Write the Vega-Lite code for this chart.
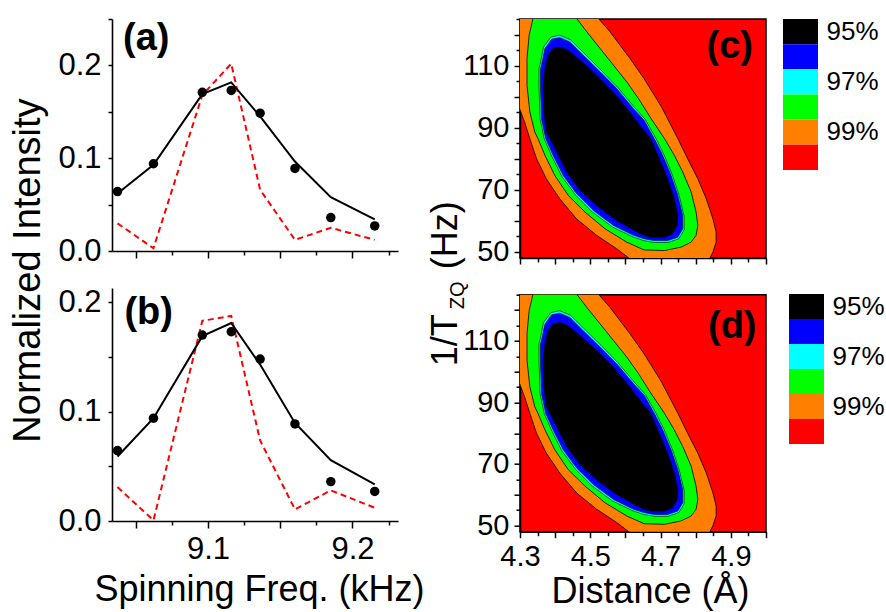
{
  "$schema": "https://vega.github.io/schema/vega-lite/v6.json",
  "background": "white",
  "padding": {"left": 8, "top": 17, "right": 5, "bottom": 3},
  "config": {
    "font": "Liberation Sans",
    "view": {"stroke": null},
    "axis": {"domainColor": "black", "domainWidth": 1.6, "tickColor": "black", "tickWidth": 1.5, "labelColor": "black", "titleColor": "black", "labelFont": "Liberation Sans", "titleFont": "Liberation Sans", "titleFontWeight": "normal", "grid": false, "labelFlush": false, "labelOverlap": false}
  },
  "datasets": {
    "spec": [
      {"p": "a", "s": "exp", "f": 9.0374, "v": 0.064}, {"p": "a", "s": "exp", "f": 9.0623, "v": 0.094}, {"p": "a", "s": "exp", "f": 9.0961, "v": 0.171}, {"p": "a", "s": "exp", "f": 9.1161, "v": 0.173}, {"p": "a", "s": "exp", "f": 9.1361, "v": 0.1485}, {"p": "a", "s": "exp", "f": 9.1602, "v": 0.089}, {"p": "a", "s": "exp", "f": 9.185, "v": 0.036}, {"p": "a", "s": "exp", "f": 9.2154, "v": 0.027},
      {"p": "a", "s": "fit", "f": 9.0374, "v": 0.062}, {"p": "a", "s": "fit", "f": 9.0623, "v": 0.093}, {"p": "a", "s": "fit", "f": 9.0961, "v": 0.169}, {"p": "a", "s": "fit", "f": 9.1161, "v": 0.1817}, {"p": "a", "s": "fit", "f": 9.1361, "v": 0.145}, {"p": "a", "s": "fit", "f": 9.1602, "v": 0.0964}, {"p": "a", "s": "fit", "f": 9.185, "v": 0.058}, {"p": "a", "s": "fit", "f": 9.2154, "v": 0.034},
      {"p": "a", "s": "sim", "f": 9.0374, "v": 0.0298}, {"p": "a", "s": "sim", "f": 9.0623, "v": 0.003}, {"p": "a", "s": "sim", "f": 9.0961, "v": 0.168}, {"p": "a", "s": "sim", "f": 9.1161, "v": 0.2018}, {"p": "a", "s": "sim", "f": 9.1361, "v": 0.066}, {"p": "a", "s": "sim", "f": 9.1602, "v": 0.012}, {"p": "a", "s": "sim", "f": 9.185, "v": 0.025}, {"p": "a", "s": "sim", "f": 9.2154, "v": 0.012},
      {"p": "b", "s": "exp", "f": 9.0374, "v": 0.0644}, {"p": "b", "s": "exp", "f": 9.0623, "v": 0.094}, {"p": "b", "s": "exp", "f": 9.0961, "v": 0.170}, {"p": "b", "s": "exp", "f": 9.1161, "v": 0.173}, {"p": "b", "s": "exp", "f": 9.1361, "v": 0.148}, {"p": "b", "s": "exp", "f": 9.1602, "v": 0.0887}, {"p": "b", "s": "exp", "f": 9.185, "v": 0.036}, {"p": "b", "s": "exp", "f": 9.2154, "v": 0.027},
      {"p": "b", "s": "fit", "f": 9.0374, "v": 0.059}, {"p": "b", "s": "fit", "f": 9.0623, "v": 0.094}, {"p": "b", "s": "fit", "f": 9.0961, "v": 0.169}, {"p": "b", "s": "fit", "f": 9.1161, "v": 0.181}, {"p": "b", "s": "fit", "f": 9.1361, "v": 0.143}, {"p": "b", "s": "fit", "f": 9.1602, "v": 0.0896}, {"p": "b", "s": "fit", "f": 9.185, "v": 0.0556}, {"p": "b", "s": "fit", "f": 9.2154, "v": 0.0334},
      {"p": "b", "s": "sim", "f": 9.0374, "v": 0.031}, {"p": "b", "s": "sim", "f": 9.0623, "v": 0.0006}, {"p": "b", "s": "sim", "f": 9.0961, "v": 0.183}, {"p": "b", "s": "sim", "f": 9.1161, "v": 0.1875}, {"p": "b", "s": "sim", "f": 9.1361, "v": 0.0736}, {"p": "b", "s": "sim", "f": 9.1602, "v": 0.0106}, {"p": "b", "s": "sim", "f": 9.185, "v": 0.028}, {"p": "b", "s": "sim", "f": 9.2154, "v": 0.0121}
    ],
    "levels": [
      {"lvl": "95%"}, {"lvl": "96%"}, {"lvl": "97%"}, {"lvl": "98%"}, {"lvl": "99%"}, {"lvl": "100%"}
    ],
    "contour": [
      {"r": "o", "i": 0, "x": 4.279, "y": 127.4}, {"r": "o", "i": 1, "x": 4.508, "y": 127.4}, {"r": "o", "i": 2, "x": 4.523, "y": 125.2}, {"r": "o", "i": 3, "x": 4.556, "y": 120.9}, {"r": "o", "i": 4, "x": 4.585, "y": 116.5}, {"r": "o", "i": 5, "x": 4.613, "y": 112.3}, {"r": "o", "i": 6, "x": 4.653, "y": 105.8}, {"r": "o", "i": 7, "x": 4.702, "y": 96.8}, {"r": "o", "i": 8, "x": 4.749, "y": 86.5}, {"r": "o", "i": 9, "x": 4.777, "y": 80.0}, {"r": "o", "i": 10, "x": 4.806, "y": 73.5}, {"r": "o", "i": 11, "x": 4.830, "y": 67.1}, {"r": "o", "i": 12, "x": 4.849, "y": 60.6}, {"r": "o", "i": 13, "x": 4.858, "y": 56.4}, {"r": "o", "i": 14, "x": 4.858, "y": 53.1}, {"r": "o", "i": 15, "x": 4.849, "y": 49.9}, {"r": "o", "i": 16, "x": 4.839, "y": 47.7}, {"r": "o", "i": 17, "x": 4.833, "y": 46.1}, {"r": "o", "i": 18, "x": 4.625, "y": 46.1}, {"r": "o", "i": 19, "x": 4.613, "y": 47.7}, {"r": "o", "i": 20, "x": 4.575, "y": 51.0}, {"r": "o", "i": 21, "x": 4.518, "y": 55.3}, {"r": "o", "i": 22, "x": 4.461, "y": 60.6}, {"r": "o", "i": 23, "x": 4.413, "y": 67.1}, {"r": "o", "i": 24, "x": 4.375, "y": 73.5}, {"r": "o", "i": 25, "x": 4.347, "y": 80.0}, {"r": "o", "i": 26, "x": 4.328, "y": 86.5}, {"r": "o", "i": 27, "x": 4.313, "y": 91.8}, {"r": "o", "i": 28, "x": 4.299, "y": 96.1}, {"r": "o", "i": 29, "x": 4.285, "y": 100.0},
      {"r": "g", "i": 0, "x": 4.342, "y": 127.4}, {"r": "g", "i": 1, "x": 4.446, "y": 127.4}, {"r": "g", "i": 2, "x": 4.461, "y": 125.2}, {"r": "g", "i": 3, "x": 4.490, "y": 120.9}, {"r": "g", "i": 4, "x": 4.528, "y": 115.5}, {"r": "g", "i": 5, "x": 4.566, "y": 110.1}, {"r": "g", "i": 6, "x": 4.604, "y": 104.7}, {"r": "g", "i": 7, "x": 4.637, "y": 99.4}, {"r": "g", "i": 8, "x": 4.673, "y": 92.9}, {"r": "g", "i": 9, "x": 4.711, "y": 86.5}, {"r": "g", "i": 10, "x": 4.739, "y": 81.1}, {"r": "g", "i": 11, "x": 4.763, "y": 75.7}, {"r": "g", "i": 12, "x": 4.787, "y": 69.3}, {"r": "g", "i": 13, "x": 4.801, "y": 62.8}, {"r": "g", "i": 14, "x": 4.806, "y": 58.5}, {"r": "g", "i": 15, "x": 4.801, "y": 55.3}, {"r": "g", "i": 16, "x": 4.787, "y": 53.1}, {"r": "g", "i": 17, "x": 4.758, "y": 51.5}, {"r": "g", "i": 18, "x": 4.711, "y": 50.4}, {"r": "g", "i": 19, "x": 4.653, "y": 50.6}, {"r": "g", "i": 20, "x": 4.604, "y": 53.1}, {"r": "g", "i": 21, "x": 4.542, "y": 57.4}, {"r": "g", "i": 22, "x": 4.485, "y": 62.8}, {"r": "g", "i": 23, "x": 4.437, "y": 68.2}, {"r": "g", "i": 24, "x": 4.399, "y": 74.6}, {"r": "g", "i": 25, "x": 4.371, "y": 81.1}, {"r": "g", "i": 26, "x": 4.351, "y": 86.5}, {"r": "g", "i": 27, "x": 4.342, "y": 88.6}, {"r": "g", "i": 28, "x": 4.328, "y": 95.1}, {"r": "g", "i": 29, "x": 4.320, "y": 103.6}, {"r": "g", "i": 30, "x": 4.320, "y": 112.3}, {"r": "g", "i": 31, "x": 4.326, "y": 119.8}, {"r": "g", "i": 32, "x": 4.337, "y": 125.2}, {"r": "g", "i": 33, "x": 4.342, "y": 127.4},
      {"r": "c", "i": 0, "x": 4.357, "y": 110.3}, {"r": "c", "i": 1, "x": 4.367, "y": 116.0}, {"r": "c", "i": 2, "x": 4.388, "y": 119.2}, {"r": "c", "i": 3, "x": 4.413, "y": 119.8}, {"r": "c", "i": 4, "x": 4.444, "y": 118.3}, {"r": "c", "i": 5, "x": 4.483, "y": 113.9}, {"r": "c", "i": 6, "x": 4.531, "y": 108.5}, {"r": "c", "i": 7, "x": 4.578, "y": 103.0}, {"r": "c", "i": 8, "x": 4.626, "y": 96.5}, {"r": "c", "i": 9, "x": 4.656, "y": 92.7}, {"r": "c", "i": 10, "x": 4.686, "y": 86.7}, {"r": "c", "i": 11, "x": 4.710, "y": 81.2}, {"r": "c", "i": 12, "x": 4.734, "y": 74.6}, {"r": "c", "i": 13, "x": 4.753, "y": 68.1}, {"r": "c", "i": 14, "x": 4.767, "y": 61.5}, {"r": "c", "i": 15, "x": 4.767, "y": 57.1}, {"r": "c", "i": 16, "x": 4.752, "y": 54.2}, {"r": "c", "i": 17, "x": 4.721, "y": 53.0}, {"r": "c", "i": 18, "x": 4.682, "y": 53.0}, {"r": "c", "i": 19, "x": 4.652, "y": 53.6}, {"r": "c", "i": 20, "x": 4.621, "y": 54.8}, {"r": "c", "i": 21, "x": 4.563, "y": 58.0}, {"r": "c", "i": 22, "x": 4.506, "y": 62.8}, {"r": "c", "i": 23, "x": 4.458, "y": 68.3}, {"r": "c", "i": 24, "x": 4.419, "y": 74.3}, {"r": "c", "i": 25, "x": 4.390, "y": 80.9}, {"r": "c", "i": 26, "x": 4.369, "y": 86.4}, {"r": "c", "i": 27, "x": 4.357, "y": 92.9}, {"r": "c", "i": 28, "x": 4.354, "y": 103.6}, {"r": "c", "i": 29, "x": 4.354, "y": 109.2}, {"r": "c", "i": 30, "x": 4.357, "y": 110.3},
      {"r": "b", "i": 0, "x": 4.361, "y": 110.1}, {"r": "b", "i": 1, "x": 4.371, "y": 115.5}, {"r": "b", "i": 2, "x": 4.390, "y": 118.5}, {"r": "b", "i": 3, "x": 4.413, "y": 119.0}, {"r": "b", "i": 4, "x": 4.442, "y": 117.6}, {"r": "b", "i": 5, "x": 4.480, "y": 113.3}, {"r": "b", "i": 6, "x": 4.528, "y": 108.0}, {"r": "b", "i": 7, "x": 4.575, "y": 102.6}, {"r": "b", "i": 8, "x": 4.623, "y": 96.1}, {"r": "b", "i": 9, "x": 4.653, "y": 92.4}, {"r": "b", "i": 10, "x": 4.682, "y": 86.5}, {"r": "b", "i": 11, "x": 4.706, "y": 81.1}, {"r": "b", "i": 12, "x": 4.730, "y": 74.6}, {"r": "b", "i": 13, "x": 4.749, "y": 68.2}, {"r": "b", "i": 14, "x": 4.763, "y": 61.7}, {"r": "b", "i": 15, "x": 4.763, "y": 57.4}, {"r": "b", "i": 16, "x": 4.749, "y": 54.7}, {"r": "b", "i": 17, "x": 4.720, "y": 53.6}, {"r": "b", "i": 18, "x": 4.682, "y": 53.6}, {"r": "b", "i": 19, "x": 4.653, "y": 54.2}, {"r": "b", "i": 20, "x": 4.623, "y": 55.3}, {"r": "b", "i": 21, "x": 4.566, "y": 58.5}, {"r": "b", "i": 22, "x": 4.509, "y": 63.3}, {"r": "b", "i": 23, "x": 4.461, "y": 68.7}, {"r": "b", "i": 24, "x": 4.423, "y": 74.6}, {"r": "b", "i": 25, "x": 4.394, "y": 81.1}, {"r": "b", "i": 26, "x": 4.373, "y": 86.5}, {"r": "b", "i": 27, "x": 4.361, "y": 92.9}, {"r": "b", "i": 28, "x": 4.358, "y": 103.6}, {"r": "b", "i": 29, "x": 4.358, "y": 109.0}, {"r": "b", "i": 30, "x": 4.361, "y": 110.1},
      {"r": "k", "i": 0, "x": 4.380, "y": 113.3}, {"r": "k", "i": 1, "x": 4.394, "y": 115.5}, {"r": "k", "i": 2, "x": 4.413, "y": 116.0}, {"r": "k", "i": 3, "x": 4.437, "y": 114.9}, {"r": "k", "i": 4, "x": 4.476, "y": 111.2}, {"r": "k", "i": 5, "x": 4.518, "y": 106.9}, {"r": "k", "i": 6, "x": 4.565, "y": 101.5}, {"r": "k", "i": 7, "x": 4.612, "y": 95.1}, {"r": "k", "i": 8, "x": 4.648, "y": 89.7}, {"r": "k", "i": 9, "x": 4.672, "y": 86.5}, {"r": "k", "i": 10, "x": 4.696, "y": 80.0}, {"r": "k", "i": 11, "x": 4.720, "y": 73.5}, {"r": "k", "i": 12, "x": 4.739, "y": 67.1}, {"r": "k", "i": 13, "x": 4.749, "y": 61.7}, {"r": "k", "i": 14, "x": 4.747, "y": 58.5}, {"r": "k", "i": 15, "x": 4.734, "y": 55.8}, {"r": "k", "i": 16, "x": 4.711, "y": 54.7}, {"r": "k", "i": 17, "x": 4.673, "y": 54.7}, {"r": "k", "i": 18, "x": 4.653, "y": 55.3}, {"r": "k", "i": 19, "x": 4.633, "y": 56.4}, {"r": "k", "i": 20, "x": 4.575, "y": 60.1}, {"r": "k", "i": 21, "x": 4.518, "y": 64.9}, {"r": "k", "i": 22, "x": 4.471, "y": 69.8}, {"r": "k", "i": 23, "x": 4.433, "y": 75.7}, {"r": "k", "i": 24, "x": 4.409, "y": 81.1}, {"r": "k", "i": 25, "x": 4.385, "y": 86.5}, {"r": "k", "i": 26, "x": 4.375, "y": 88.6}, {"r": "k", "i": 27, "x": 4.368, "y": 95.1}, {"r": "k", "i": 28, "x": 4.366, "y": 103.6}, {"r": "k", "i": 29, "x": 4.371, "y": 109.0}, {"r": "k", "i": 30, "x": 4.380, "y": 113.3}
    ]
  },
  "spacing": 1,
  "hconcat": [
    {
      "bounds": "flush",
      "spacing": 37,
      "vconcat": [
        {
          "width": 286, "height": 232,
          "data": {"name": "spec"},
          "encoding": {
            "x": {"field": "f", "type": "quantitative", "scale": {"domain": [9.0336, 9.2315], "nice": false, "zero": false},
              "axis": {"values": [9.05, 9.075, 9.1, 9.125, 9.15, 9.175, 9.2, 9.225], "labels": false, "title": null,
                "tickSize": {"condition": {"test": "abs(datum.value*20 - round(datum.value*20)) < 0.001", "value": 7}, "value": 4}}},
            "y": {"field": "v", "type": "quantitative", "scale": {"domain": [0, 0.25], "nice": false, "zero": false},
              "axis": {"values": [0, 0.05, 0.1, 0.15, 0.2, 0.25], "labelExpr": "abs(datum.value*10 - round(datum.value*10)) < 0.001 ? format(datum.value, '.1f') : ''",
                "labelFontSize": {"condition": {"test": "abs(datum.value*10 - round(datum.value*10)) < 0.001", "value": 31}, "value": 0},
                "tickSize": 4, "labelPadding": 7,
                "title": "Normalized Intensity", "titleFontSize": 38, "titleAngle": -90, "titleAlign": "center", "titleBaseline": "alphabetic", "titleX": -73, "titleY": 251}}
          },
          "layer": [
            {"transform": [{"filter": "datum.p == 'a' && datum.s == 'sim'"}], "mark": {"type": "line", "color": "#ff0000", "strokeWidth": 2, "strokeDash": [6, 4]}},
            {"transform": [{"filter": "datum.p == 'a' && datum.s == 'fit'"}], "mark": {"type": "line", "color": "black", "strokeWidth": 2}},
            {"transform": [{"filter": "datum.p == 'a' && datum.s == 'exp'"}], "mark": {"type": "circle", "color": "black", "size": 90, "opacity": 1}},
            {"transform": [{"filter": "datum.p == 'a' && datum.s == 'exp' && datum.f < 9.04"}], "mark": {"type": "text", "text": "(a)", "fontSize": 38, "fontWeight": "bold", "align": "center", "baseline": "middle", "fill": "black"},
              "encoding": {"x": {"datum": 9.0573}, "y": {"datum": 0.2286}}}
          ]
        },
        {
          "width": 286, "height": 233,
          "data": {"name": "spec"},
          "encoding": {
            "x": {"field": "f", "type": "quantitative", "scale": {"domain": [9.0336, 9.2315], "nice": false, "zero": false},
              "axis": {"values": [9.05, 9.075, 9.1, 9.125, 9.15, 9.175, 9.2, 9.225],
                "labelExpr": "abs(datum.value*10 - round(datum.value*10)) < 0.001 ? format(datum.value, '.1f') : ''",
                "labelFontSize": {"condition": {"test": "abs(datum.value*10 - round(datum.value*10)) < 0.001", "value": 31}, "value": 0},
                "labelPadding": 6,
                "tickSize": {"condition": {"test": "abs(datum.value*20 - round(datum.value*20)) < 0.001", "value": 7}, "value": 4},
                "title": "Spinning Freq. (kHz)", "titleFontSize": 36, "titlePadding": 8, "titleX": 147}},
            "y": {"field": "v", "type": "quantitative", "scale": {"domain": [0, 0.213], "nice": false, "zero": false},
              "axis": {"values": [0, 0.05, 0.1, 0.15, 0.2], "labelExpr": "abs(datum.value*10 - round(datum.value*10)) < 0.001 ? format(datum.value, '.1f') : ''",
                "labelFontSize": {"condition": {"test": "abs(datum.value*10 - round(datum.value*10)) < 0.001", "value": 31}, "value": 0},
                "tickSize": 4, "labelPadding": 7, "title": null}}
          },
          "layer": [
            {"transform": [{"filter": "datum.p == 'b' && datum.s == 'sim'"}], "mark": {"type": "line", "color": "#ff0000", "strokeWidth": 2, "strokeDash": [6, 4]}},
            {"transform": [{"filter": "datum.p == 'b' && datum.s == 'fit'"}], "mark": {"type": "line", "color": "black", "strokeWidth": 2}},
            {"transform": [{"filter": "datum.p == 'b' && datum.s == 'exp'"}], "mark": {"type": "circle", "color": "black", "size": 90, "opacity": 1}},
            {"transform": [{"filter": "datum.p == 'b' && datum.s == 'exp' && datum.f < 9.04"}], "mark": {"type": "text", "text": "(b)", "fontSize": 38, "fontWeight": "bold", "align": "center", "baseline": "middle", "fill": "black"},
              "encoding": {"x": {"datum": 9.059}, "y": {"datum": 0.19}}}
          ]
        }
      ]
    },
    {
      "spacing": 15,
      "hconcat": [
        {
          "bounds": "flush",
          "spacing": 36.7,
          "vconcat": [
            {
              "width": 246, "height": 239,
              "view": {"fill": "#ff0000", "stroke": "black", "strokeWidth": 1.5},
              "data": {"name": "contour"},
              "encoding": {
                "x": {"field": "x", "type": "quantitative", "scale": {"domain": [4.3, 5.0], "nice": false, "zero": false},
                  "axis": {"values": [4.3, 4.35, 4.4, 4.45, 4.5, 4.55, 4.6, 4.65, 4.7, 4.75, 4.8, 4.85, 4.9, 4.95, 5.0], "labels": false, "title": null,
                    "tickSize": {"condition": {"test": "abs(datum.value*10 - round(datum.value*10)) < 0.001", "value": 6}, "value": 4}}},
                "y": {"field": "y", "type": "quantitative", "scale": {"domain": [48, 125], "nice": false, "zero": false},
                  "axis": {"values": [50, 55, 60, 65, 70, 75, 80, 85, 90, 95, 100, 105, 110, 115, 120, 125],
                    "labelExpr": "(datum.value - 50) % 20 == 0 ? datum.label : ''",
                    "labelFontSize": {"condition": {"test": "(datum.value - 50) % 20 == 0", "value": 29}, "value": 0},
                    "tickSize": {"condition": {"test": "datum.value % 10 == 0", "value": 6}, "value": 4},
                    "labelPadding": 5, "title": null}}
              },
              "layer": [
                {"transform": [{"filter": "datum.r == 'o'"}], "mark": {"type": "line", "fill": "#ff8000", "stroke": "black", "strokeWidth": 0.8, "clip": true}, "encoding": {"order": {"field": "i", "type": "quantitative"}}},
                {"transform": [{"filter": "datum.r == 'g'"}], "mark": {"type": "line", "fill": "#00ff00", "stroke": "black", "strokeWidth": 0.8, "clip": true}, "encoding": {"order": {"field": "i", "type": "quantitative"}}},
                {"transform": [{"filter": "datum.r == 'c'"}], "mark": {"type": "line", "fill": "#00ffff", "stroke": "black", "strokeWidth": 0.6, "clip": true}, "encoding": {"order": {"field": "i", "type": "quantitative"}}},
                {"transform": [{"filter": "datum.r == 'b'"}], "mark": {"type": "line", "fill": "#0000ff", "stroke": "black", "strokeWidth": 0.6, "clip": true}, "encoding": {"order": {"field": "i", "type": "quantitative"}}},
                {"transform": [{"filter": "datum.r == 'k'"}], "mark": {"type": "line", "fill": "#000000", "stroke": "black", "strokeWidth": 0.6, "clip": true}, "encoding": {"order": {"field": "i", "type": "quantitative"}}},
                {"transform": [{"filter": "datum.r == 'o' && datum.i == 0"}], "mark": {"type": "text", "text": "(c)", "fontSize": 38, "fontWeight": "bold", "align": "center", "baseline": "middle", "fill": "black"},
                  "encoding": {"x": {"datum": 4.897}, "y": {"datum": 115.9}}}
              ]
            },
            {
              "width": 246, "height": 237,
              "view": {"fill": "#ff0000", "stroke": "black", "strokeWidth": 1.5},
              "data": {"name": "contour"},
              "resolve": {"axis": {"y": "independent"}},
              "encoding": {
                "x": {"field": "x", "type": "quantitative", "scale": {"domain": [4.3, 5.0], "nice": false, "zero": false},
                  "axis": {"values": [4.3, 4.35, 4.4, 4.45, 4.5, 4.55, 4.6, 4.65, 4.7, 4.75, 4.8, 4.85, 4.9, 4.95, 5.0],
                    "labelExpr": "abs((datum.value - 4.3)*5 - round((datum.value - 4.3)*5)) < 0.001 ? format(datum.value, '.1f') : ''",
                    "labelFontSize": {"condition": {"test": "abs((datum.value - 4.3)*5 - round((datum.value - 4.3)*5)) < 0.001", "value": 29}, "value": 0},
                    "labelPadding": 5,
                    "tickSize": {"condition": {"test": "abs(datum.value*10 - round(datum.value*10)) < 0.001", "value": 6}, "value": 4},
                    "title": "Distance (Å)", "titleFontSize": 36, "titlePadding": 3, "titleX": 130}}
              },
              "layer": [
                {"transform": [{"filter": "datum.r == 'o'"}], "mark": {"type": "line", "fill": "#ff8000", "stroke": "black", "strokeWidth": 0.8, "clip": true},
                  "encoding": {"order": {"field": "i", "type": "quantitative"}, "y": {"field": "y", "type": "quantitative", "scale": {"domain": [48, 125], "nice": false, "zero": false},
                    "axis": {"orient": "left", "values": [50, 55, 60, 65, 70, 75, 80, 85, 90, 95, 100, 105, 110, 115, 120, 125],
                      "labelExpr": "(datum.value - 50) % 20 == 0 ? datum.label : ''",
                      "labelFontSize": {"condition": {"test": "(datum.value - 50) % 20 == 0", "value": 29}, "value": 0},
                      "tickSize": {"condition": {"test": "datum.value % 10 == 0", "value": 6}, "value": 4},
                      "labelPadding": 5,
                      "title": "1/T", "titleFontSize": 36, "titleAngle": -90, "titleAlign": "right", "titleBaseline": "alphabetic", "titleX": -64, "titleY": 19}}}},
                {"transform": [{"filter": "datum.r == 'g'"}], "mark": {"type": "line", "fill": "#00ff00", "stroke": "black", "strokeWidth": 0.8, "clip": true},
                  "encoding": {"order": {"field": "i", "type": "quantitative"}, "y": {"field": "y", "type": "quantitative", "axis": null}}},
                {"transform": [{"filter": "datum.r == 'c'"}], "mark": {"type": "line", "fill": "#00ffff", "stroke": "black", "strokeWidth": 0.6, "clip": true},
                  "encoding": {"order": {"field": "i", "type": "quantitative"}, "y": {"field": "y", "type": "quantitative", "axis": null}}},
                {"transform": [{"filter": "datum.r == 'b'"}], "mark": {"type": "line", "fill": "#0000ff", "stroke": "black", "strokeWidth": 0.6, "clip": true},
                  "encoding": {"order": {"field": "i", "type": "quantitative"}, "y": {"field": "y", "type": "quantitative", "axis": null}}},
                {"transform": [{"filter": "datum.r == 'k'"}], "mark": {"type": "line", "fill": "#000000", "stroke": "black", "strokeWidth": 0.6, "clip": true},
                  "encoding": {"order": {"field": "i", "type": "quantitative"}, "y": {"field": "y", "type": "quantitative", "axis": null}}},
                {"transform": [{"filter": "datum.r == 'o' && datum.i == 0"}], "mark": {"type": "text", "text": "(d)", "fontSize": 38, "fontWeight": "bold", "align": "center", "baseline": "middle", "fill": "black"},
                  "encoding": {"x": {"datum": 4.904}, "y": {"datum": 114.5, "type": "quantitative",
                    "axis": {"orient": "left", "domain": false, "ticks": false, "labels": false, "title": "ZQ", "titleFontSize": 20, "titleAngle": -90, "titleAlign": "left", "titleBaseline": "alphabetic", "titleX": -57, "titleY": 14}}}},
                {"transform": [{"filter": "datum.r == 'o' && datum.i == 0"}], "mark": {"type": "text", "text": "", "fill": "black"},
                  "encoding": {"x": {"datum": 4.5}, "y": {"datum": 80, "type": "quantitative",
                    "axis": {"orient": "left", "domain": false, "ticks": false, "labels": false, "title": "(Hz)", "titleFontSize": 36, "titleAngle": -90, "titleAlign": "left", "titleBaseline": "alphabetic", "titleX": -64, "titleY": -26}}}}
              ]
            }
          ]
        },
        {
          "bounds": "flush",
          "spacing": 124,
          "vconcat": [
            {
              "width": 35, "height": 151,
              "data": {"name": "levels"},
              "mark": {"type": "rect"},
              "encoding": {
                "y": {"field": "lvl", "type": "ordinal", "sort": null, "scale": {"paddingInner": 0, "paddingOuter": 0},
                  "axis": {"orient": "right", "domain": false, "ticks": false, "labelExpr": "indexof(['95%','97%','99%'], datum.value) >= 0 ? datum.value : ''", "labelFontSize": 26, "labelPadding": 8, "title": null}},
                "color": {"field": "lvl", "type": "nominal", "sort": null, "scale": {"range": ["#000000", "#0000ff", "#00ffff", "#00ff00", "#ff8000", "#ff0000"]}, "legend": null}
              }
            },
            {
              "width": 41, "height": 150,
              "data": {"name": "levels"},
              "mark": {"type": "rect"},
              "encoding": {
                "x": {"datum": 0, "type": "quantitative", "scale": {"domain": [-0.1714, 1], "nice": false, "zero": false}, "axis": null},
                "x2": {"datum": 1},
                "y": {"field": "lvl", "type": "ordinal", "sort": null, "scale": {"paddingInner": 0, "paddingOuter": 0},
                  "axis": {"orient": "right", "domain": false, "ticks": false, "labelExpr": "indexof(['95%','97%','99%'], datum.value) >= 0 ? datum.value : ''", "labelFontSize": 26, "labelPadding": 8, "title": null}},
                "color": {"field": "lvl", "type": "nominal", "sort": null, "scale": {"range": ["#000000", "#0000ff", "#00ffff", "#00ff00", "#ff8000", "#ff0000"]}, "legend": null}
              }
            }
          ]
        }
      ]
    }
  ]
}
